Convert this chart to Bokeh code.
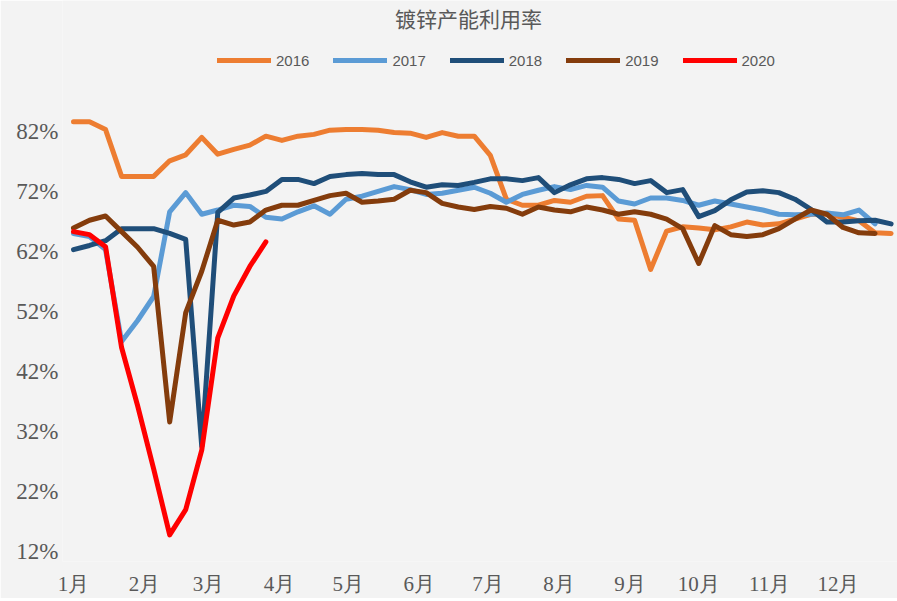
from bokeh.plotting import figure
from bokeh.models import FixedTicker, Legend, LegendItem, Label, Range1d
from bokeh.embed import file_html
from bokeh.resources import INLINE

# ---------------- data ----------------
title_text = "镀锌产能利用率"
month_labels = ["1月", "2月", "3月", "4月", "5月", "6月", "7月", "8月", "9月", "10月", "11月", "12月"]
month_start_days = [0, 31, 59, 90, 120, 151, 181, 212, 243, 273, 304, 334]
y_ticks = [12, 22, 32, 42, 52, 62, 72, 82]
days_per_week = 7

years = ["2016", "2017", "2018", "2019", "2020"]
u2016 = [83.6, 83.6, 82.3, 74.5, 74.5, 74.5, 77.1, 78.1, 81.0, 78.2,
         79.0, 79.7, 81.2, 80.5, 81.2, 81.5, 82.2, 82.3, 82.3, 82.2,
         81.8, 81.7, 81.0, 81.8, 81.2, 81.2, 78.0, 70.7, 69.7, 69.7,
         70.5, 70.2, 71.2, 71.3, 67.4, 67.2, 59.0, 65.4, 66.1, 65.9,
         65.6, 66.1, 66.9, 66.4, 66.6, 67.4, 68.2, 68.2, 67.7, 67.1,
         65.1, 65.0]
u2017 = [65.0, 64.5, 62.3, 47.0, 50.5, 54.5, 68.6, 71.8, 68.2, 68.9,
         69.7, 69.5, 67.7, 67.4, 68.6, 69.6, 68.2, 70.7, 71.2, 72.0,
         72.8, 72.3, 71.5, 71.7, 72.2, 72.7, 71.7, 70.2, 71.5, 72.2,
         72.8, 72.3, 73.0, 72.7, 70.4, 69.9, 70.9, 70.9, 70.5, 69.7,
         70.4, 69.9, 69.4, 68.9, 68.2, 68.1, 68.2, 68.4, 68.1, 68.9,
         66.6]
u2018 = [62.3, 63.0, 63.8, 65.8, 65.8, 65.8, 65.0, 64.0, 29.5, 68.5,
         70.9, 71.4, 72.0, 74.0, 74.0, 73.3, 74.5, 74.8, 75.0, 74.8,
         74.8, 73.6, 72.7, 73.1, 73.0, 73.5, 74.1, 74.1, 73.8, 74.3,
         71.8, 73.1, 74.1, 74.3, 74.0, 73.3, 73.8, 71.8, 72.3, 67.8,
         68.8, 70.6, 71.9, 72.1, 71.8, 70.7, 69.0, 66.9, 66.9, 67.1,
         67.2, 66.6]
u2019 = [65.9, 67.2, 67.9, 65.3, 62.7, 59.5, 33.6, 51.8, 58.7, 67.2,
         66.4, 66.9, 68.9, 69.7, 69.7, 70.5, 71.3, 71.7, 70.2, 70.4,
         70.7, 72.2, 71.8, 70.0, 69.4, 69.0, 69.5, 69.2, 68.2, 69.4,
         68.9, 68.6, 69.4, 68.9, 68.2, 68.6, 68.2, 67.4, 65.8, 60.0,
         66.3, 64.8, 64.5, 64.8, 65.8, 67.4, 68.9, 68.2, 66.0, 65.1,
         65.0]
u2020 = [65.3, 64.8, 62.8, 46.0, 36.3, 25.8, 14.8, 19.0, 28.9, 47.6,
         54.6, 59.5, 63.6]
series = [u2016, u2017, u2018, u2019, u2020]
colors = ["#ED7D31", "#5B9BD5", "#1F4E79", "#843C0C", "#FF0000"]

# ---------------- figure ----------------
W, H = 897, 598
BL, BR, BT, BB = 62, 0, 0, 28
p = figure(width=W, height=H, output_backend="svg", toolbar_location=None,
           x_range=Range1d(-4.8, 359.8), y_range=Range1d(10.36, 103.8),
           min_border_left=BL, min_border_right=BR, min_border_top=BT, min_border_bottom=BB)
bg = "#F3F3F3"
p.background_fill_color = bg
p.border_fill_color = bg
p.outline_line_color = None
p.grid.visible = False

items = []
for name, vals, col in zip(years, series, colors):
    xs = [i * days_per_week for i in range(len(vals))]
    r = p.line(xs, vals, line_color=col, line_width=5, line_join="round", line_cap="round")
    items.append(LegendItem(label=name, renderers=[r]))

# axes
p.yaxis.ticker = FixedTicker(ticks=y_ticks)
p.yaxis.major_label_overrides = {t: f"{t}%" for t in y_ticks}
p.xaxis.ticker = FixedTicker(ticks=month_start_days)
p.xaxis.major_label_overrides = {d: m for d, m in zip(month_start_days, month_labels)}
for ax in (p.xaxis, p.yaxis):
    ax.axis_line_color = None
    ax.major_tick_line_color = None
    ax.minor_tick_line_color = None
    ax.major_label_text_color = "#595959"
    ax.major_label_text_font = "Liberation Serif"
p.yaxis.major_label_text_font_size = "23px"
p.yaxis.major_label_standoff = -2
p.xaxis.major_label_text_font_size = "21px"
p.xaxis.major_label_standoff = 4

frame_h = H - BT - BB

# title
p.add_layout(Label(x=468 - BL, y=frame_h - 26, x_units="screen", y_units="screen",
                   text=title_text, text_align="center", text_baseline="middle",
                   text_font="Noto Sans CJK SC", text_font_size="21px", text_color="#595959"))

legend = Legend(items=items, orientation="horizontal", location=(217 - BL, frame_h - 78),
                glyph_width=54, glyph_height=18, label_standoff=5, spacing=24,
                padding=0, margin=0, border_line_color=None, background_fill_alpha=0,
                label_text_font="Liberation Sans", label_text_font_size="15px",
                label_text_color="#595959")
p.add_layout(legend, "center")

open("out.html", "w").write(file_html(p, INLINE))
